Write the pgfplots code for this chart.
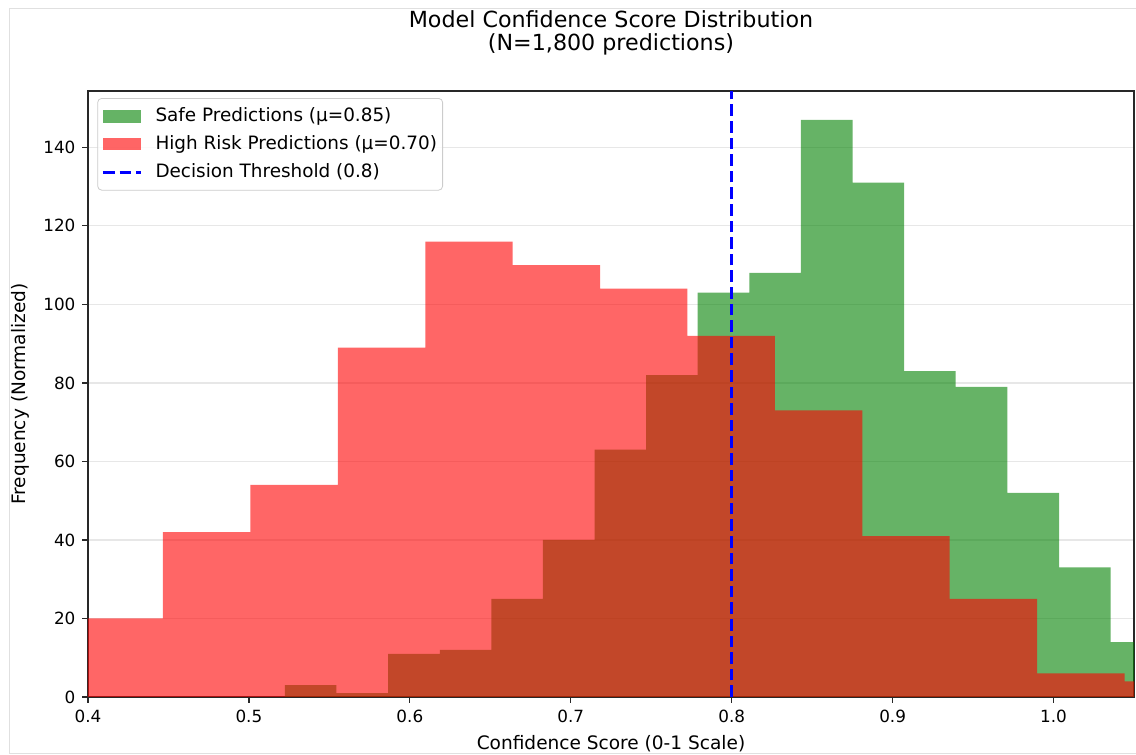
\documentclass[border=0pt]{standalone}
\usepackage{fontspec}
\setmainfont{DejaVu Sans}
\usepackage{pgfplots}
\pgfplotsset{compat=1.18}
\definecolor{mplgreen}{RGB}{0,128,0}
\definecolor{mplred}{RGB}{255,0,0}
\definecolor{gridgray}{RGB}{231,231,231}
\definecolor{spine}{RGB}{40,40,40}
\newcommand{\tickfont}{\fontsize{8.4}{10}\selectfont}
\newcommand{\labelfont}{\fontsize{9.27}{11}\selectfont}
\newcommand{\legfont}{\fontsize{9.2}{11}\selectfont}
\newcommand{\titlefont}{\fontsize{11.1}{13.3}\selectfont}
\pgfplotsset{
  barlegend/.style={legend image code/.code={\fill[##1, sharp corners] (0pt,-3.1pt) rectangle (19pt,3.1pt); \path (24.5pt,0pt);}},
  linelegend/.style={legend image code/.code={\draw[##1, sharp corners] (0pt,0pt) -- (19pt,0pt); \path (24.5pt,0pt);}},
}
\begin{document}
\begin{tikzpicture}
\path[use as bounding box] (-44pt,-29pt) rectangle (524pt,348.5pt);
\draw[color=black!12, line width=0.6pt] (-39.35pt,-28.15pt) rectangle (540pt,344.35pt);
\begin{axis}[
  scale only axis, width=523pt, height=303pt,
  xmin=0.4, xmax=1.05, ymin=0, ymax=154.35,
  xtick={0.4,0.5,0.6,0.7,0.8,0.9,1.0},
  ytick={0,20,40,60,80,100,120,140},
  xticklabels={0.4,0.5,0.6,0.7,0.8,0.9,1.0},
  /pgf/number format/assume math mode=true,
  ticklabel style={font=\tickfont},
  tick align=outside, xtick pos=bottom, ytick pos=left,
  major tick length=2.75pt,
  every tick/.style={spine, line width=0.63pt},
  axis line style={spine, line width=0.9pt},
  ymajorgrids, grid style={gridgray, line width=0.63pt},
  xlabel={Confidence Score (0-1 Scale)},
  ylabel={Frequency (Normalized)},
  xlabel style={font=\labelfont, at={(axis description cs:0.5,-0.0865)}, anchor=base},
  ylabel style={font=\labelfont, at={(axis description cs:-0.0602,0.5)}, anchor=base},
  legend cell align=left,
  legend style={at={(axis description cs:0.0089,0.9884)}, anchor=north west,
    draw=black!20, rounded corners=2pt, fill=white, fill opacity=0.8, text opacity=1, draw opacity=1,
    font=\legfont, row sep=3.5pt, inner xsep=1.85pt, inner ysep=3.7pt,
    nodes={inner sep=1pt}},
]
% Safe predictions (green)
\addplot[ybar interval, fill=mplgreen, draw=none, fill opacity=0.6, barlegend]
coordinates {
(0.5224,3) (0.5544,1) (0.5865,11) (0.6186,12) (0.6506,25) (0.6827,40)
(0.7148,63) (0.7468,82) (0.7789,103) (0.8110,108) (0.8430,147) (0.8751,131)
(0.9072,83) (0.9392,79) (0.9713,52) (1.0034,33) (1.0354,14) (1.0675,14)
};
\addlegendentry{Safe Predictions (μ=0.85)}
% High risk predictions (red)
\addplot[ybar interval, fill=mplred, draw=none, fill opacity=0.6, barlegend]
coordinates {
(0.3923,20) (0.4466,42) (0.5009,54) (0.5552,89) (0.6096,116) (0.6639,110)
(0.7182,104) (0.7725,92) (0.8268,73) (0.8812,41) (0.9355,25) (0.9898,6)
(1.0441,4) (1.0985,4)
};
\addlegendentry{High Risk Predictions (μ=0.70)}
% threshold
\addplot[blue, line width=1.55pt, dash pattern=on 5.8pt off 2.5pt, linelegend]
coordinates {(0.8,0) (0.8,154.35)};
\addlegendentry{Decision Threshold (0.8)}
\end{axis}
\node[font=\titlefont, anchor=base] at ([yshift=31.6pt]current axis.north) {Model Confidence Score Distribution};
\node[font=\titlefont, anchor=base] at ([yshift=20.2pt]current axis.north) {(N=1,800 predictions)};
\end{tikzpicture}
\end{document}
